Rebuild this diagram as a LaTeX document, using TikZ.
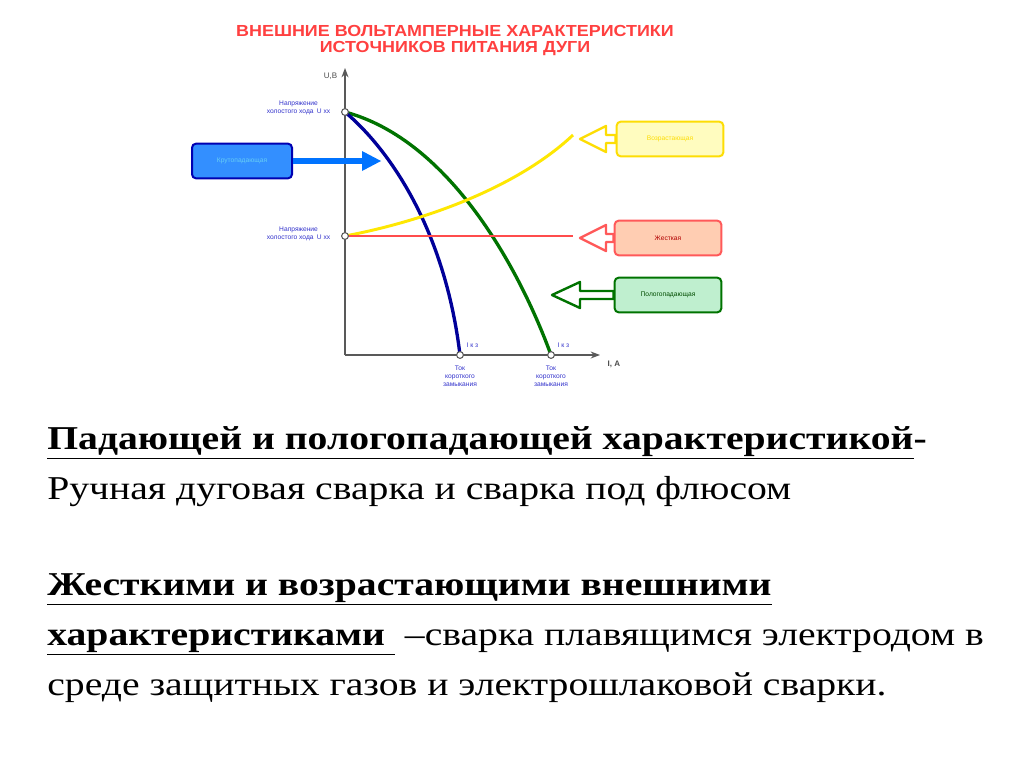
\documentclass[tikz,border=0pt]{standalone}
\usepackage{fontspec}
\setmainfont{Liberation Serif}
\newfontfamily\sans{Liberation Sans}
\usetikzlibrary{arrows.meta}
\begin{document}
\begin{tikzpicture}[x=0.75pt,y=-0.75pt,
  lbl/.style={font=\sans\fontsize{5}{6}\selectfont,text=blue!60!gray,align=center},
  tbox/.style={rounded corners=3pt,line width=1.5pt,minimum height=26pt,font=\sans\fontsize{5}{6}\selectfont,align=center},
  pt/.style={circle,draw=gray!70!black,fill=white,line width=0.8pt,inner sep=1.8pt},
  body/.style={anchor=base west,font=\fontsize{25}{30}\selectfont,xscale=1.19,transform shape,inner sep=0pt},
  harrow/.style={line width=1.8pt,draw=#1,fill=white,line join=round}]
\useasboundingbox (0,0) rectangle (1024,767);
\fill[white] (0,0) rectangle (1024,767);
\node[font=\sans\bfseries\fontsize{12}{12}\selectfont,text=red!75!white,align=center,xscale=1.12,transform shape] (title) at (455,41) {ВНЕШНИЕ ВОЛЬТАМПЕРНЫЕ ХАРАКТЕРИСТИКИ\\ИСТОЧНИКОВ ПИТАНИЯ ДУГИ};
% axes
\coordinate (O) at (345,355);
\coordinate (ytop) at (345,68);
\coordinate (xend) at (600,355);
\draw[gray!70!black,line width=1pt,-{Stealth[length=7pt]}] (O) -- (ytop);
\draw[gray!70!black,line width=1pt,-{Stealth[length=7pt]}] (O) -- (xend);
\node[lbl,text=gray!60!black,font=\sans\fontsize{6}{7}\selectfont,anchor=east] (UB) at (342,76) {U,B};
\node[lbl,text=gray!60!black,font=\sans\bfseries\fontsize{6}{7}\selectfont,anchor=west] (IA) at (603,364) {I, A};
\coordinate (U1) at (345,112);
\coordinate (U2) at (345,236);
\coordinate (I1) at (460,355);
\coordinate (I2) at (551,355);
% curves
\draw[green!45!black,line width=2.5pt] (U1) .. controls (450,140) and (520,270) .. (I2);
\draw[blue!60!black,line width=2.5pt] (U1) .. controls (390,150) and (445,230) .. (I1);
\draw[yellow!90!orange,line width=2.2pt] (U2) .. controls (430,220) and (520,185) .. (573,135);
\draw[red!70!white,line width=2.2pt] (U2) -- (573,236);
\node[pt] (p1) at (U1) {};
\node[pt] (p2) at (U2) {};
\node[pt] (p3) at (I1) {};
\node[pt] (p4) at (I2) {};
\node[lbl,anchor=east] (n1) at (335,108) {Напряжение\\холостого хода\enspace U хх};
\node[lbl,anchor=east] (n2) at (335,234) {Напряжение\\холостого хода\enspace U хх};
\node[lbl,anchor=south west] at (462,352) {I к з};
\node[lbl,anchor=south west] at (553,352) {I к з};
\node[lbl,anchor=north] at (460,361) {Ток\\короткого\\замыкания};
\node[lbl,anchor=north] at (551,361) {Ток\\короткого\\замыкания};
% boxes
\node[tbox,draw=blue!70!black,fill=blue!55!cyan!80!white,minimum width=75pt,text=cyan!60!white] (bb) at (242,161) {Крутопадающая};
\draw[blue!55!cyan,line width=4pt] (bb.east) -- (365,161);
\fill[blue!55!cyan] (362,151) -- (381,161) -- (362,171) -- cycle;
\node[tbox,draw=yellow!80!orange,fill=yellow!25,minimum width=80pt,text=yellow!80!orange] (yb) at (670,139) {Возрастающая};
\node[tbox,draw=red!65,fill=red!30!orange!30,minimum width=80pt,text=red!70!black] (rb) at (668,238) {Жесткая};
\node[tbox,draw=green!45!black,fill=green!50!teal!25,minimum width=80pt,text=green!30!black] (gb) at (668,295) {Пологопадающая};
% hollow arrows
\draw[harrow=yellow!80!orange] (yb.west) ++(0,-4) -- (606,135) -- (606,126) -- (580,139) -- (606,152) -- (606,143) -- ([yshift=-3pt]yb.west) -- cycle;
\draw[harrow=red!65] (rb.west) ++(0,-4) -- (606,234) -- (606,225) -- (580,238) -- (606,251) -- (606,242) -- ([yshift=-3pt]rb.west) -- cycle;
\draw[harrow=green!45!black] (gb.west) ++(0,-4) -- (580,291) -- (580,282) -- (552,295) -- (580,308) -- (580,299) -- ([yshift=-3pt]gb.west) -- cycle;
% body text
\node[body] (t1) at (47,449) {\textbf{\underline{Падающей и пологопадающей характеристикой}-}};
\node[body] (t2) at (47,499) {Ручная дуговая сварка и сварка под флюсом};
\node[body] (t3) at (47,595) {\textbf{\underline{Жесткими и возрастающими внешними}}};
\node[body] (t4) at (47,645) {\textbf{\underline{характеристиками }} –сварка плавящимся электродом в};
\node[body] (t5) at (47,695) {среде защитных газов и электрошлаковой сварки.};
\end{tikzpicture}
\end{document}
